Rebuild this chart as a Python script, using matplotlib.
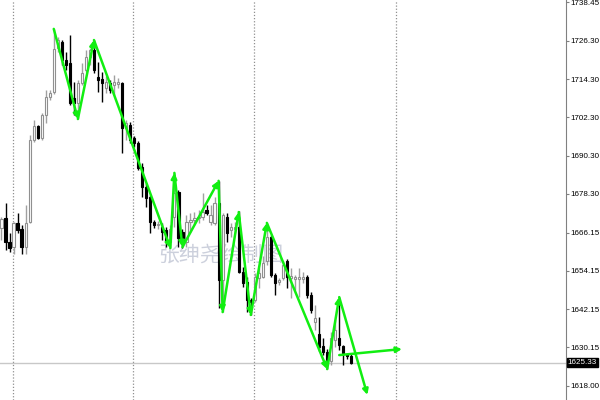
import numpy as np
import matplotlib

matplotlib.use('Agg')

import matplotlib.pyplot as plt

plt.rcParams['font.family'] = ['Liberation Sans', 'DejaVu Sans']

# candle data (one bar per index)
opens = [1667.6, 1670.7, 1663.2, 1661.6, 1669.2, 1667.3, 1661.6, 1669.5, 1695.2, 1699.6,
         1695.9, 1703.1, 1708.7, 1710.3, 1724.1, 1726.0, 1720.3, 1719.4, 1708.4, 1706.8,
         1713.1, 1717.2, 1721.3, 1723.5, 1715.0, 1714.4, 1711.6, 1713.1, 1712.5, 1712.8,
         1713.1, 1699.0, 1699.9, 1695.9, 1694.3, 1686.8, 1680.5, 1677.3, 1669.5, 1668.5,
         1667.9, 1667.0, 1663.2, 1671.1, 1678.9, 1666.3, 1663.2, 1669.5, 1670.1, 1670.7,
         1671.1, 1673.1, 1669.5, 1669.2, 1675.5, 1651.3, 1671.1, 1667.0, 1667.3, 1667.9,
         1653.8, 1650.6, 1645.0, 1645.0, 1651.9, 1652.2, 1657.1, 1664.8, 1652.8, 1650.6,
         1651.9, 1657.1, 1651.9, 1651.6, 1651.6, 1651.6, 1652.2, 1646.6, 1638.1, 1634.2,
         1630.6, 1628.7, 1625.9, 1632.4, 1633.0, 1630.6, 1628.1, 1627.3]
highs = [1671.1, 1675.5, 1666.0, 1669.5, 1672.3, 1668.5, 1674.8, 1696.8, 1701.5, 1699.9,
         1703.7, 1710.9, 1710.9, 1730.1, 1727.6, 1726.6, 1722.9, 1728.2, 1713.4, 1714.1,
         1719.4, 1723.5, 1724.1, 1726.6, 1719.7, 1716.6, 1715.3, 1714.1, 1715.6, 1714.7,
         1713.4, 1701.5, 1700.9, 1696.5, 1694.9, 1688.0, 1681.7, 1678.0, 1670.1, 1669.8,
         1669.2, 1667.9, 1668.5, 1684.9, 1679.5, 1667.3, 1671.8, 1672.3, 1672.5, 1673.1,
         1678.6, 1674.8, 1674.8, 1677.3, 1682.4, 1672.3, 1672.3, 1669.2, 1669.5, 1672.9,
         1655.4, 1652.2, 1645.6, 1653.5, 1655.1, 1658.9, 1669.2, 1665.4, 1653.5, 1651.9,
         1657.1, 1657.8, 1655.1, 1652.8, 1655.1, 1653.8, 1652.8, 1647.5, 1643.4, 1639.5,
         1633.0, 1629.7, 1634.9, 1638.6, 1645.9, 1630.9, 1628.4, 1628.1]
lows = [1663.8, 1660.7, 1660.1, 1659.4, 1666.0, 1659.4, 1659.4, 1669.2, 1694.6, 1695.5,
        1695.2, 1700.6, 1707.8, 1709.7, 1722.9, 1718.8, 1717.2, 1706.2, 1703.1, 1701.8,
        1712.5, 1716.6, 1718.8, 1716.3, 1710.3, 1707.2, 1710.0, 1710.0, 1709.4, 1711.6,
        1691.1, 1695.2, 1694.3, 1693.0, 1685.8, 1677.3, 1674.2, 1666.0, 1667.6, 1667.3,
        1663.8, 1661.6, 1661.3, 1667.9, 1661.6, 1661.3, 1661.6, 1666.3, 1668.5, 1669.2,
        1670.1, 1671.6, 1668.5, 1668.5, 1642.5, 1641.2, 1663.2, 1664.8, 1666.0, 1653.5,
        1649.1, 1641.2, 1640.3, 1644.4, 1648.8, 1651.9, 1656.1, 1652.2, 1646.6, 1649.7,
        1651.3, 1648.8, 1645.6, 1648.2, 1645.9, 1650.3, 1645.6, 1640.9, 1635.6, 1629.0,
        1627.7, 1623.3, 1624.6, 1630.3, 1629.3, 1624.6, 1626.5, 1624.9]
closes = [1670.4, 1663.2, 1661.3, 1669.2, 1667.0, 1661.6, 1669.2, 1695.2, 1699.6, 1695.9,
          1703.1, 1708.7, 1710.0, 1723.8, 1726.6, 1720.3, 1718.8, 1706.8, 1706.8, 1713.1,
          1716.3, 1721.3, 1723.5, 1717.2, 1714.1, 1713.1, 1713.4, 1710.9, 1713.4, 1713.4,
          1699.0, 1700.6, 1695.2, 1694.3, 1686.4, 1680.5, 1677.0, 1669.5, 1668.5, 1668.8,
          1666.3, 1663.2, 1667.3, 1678.6, 1664.5, 1663.2, 1669.5, 1670.1, 1670.7, 1671.1,
          1672.5, 1672.3, 1671.8, 1675.5, 1651.3, 1671.7, 1666.0, 1667.9, 1667.9, 1653.8,
          1650.3, 1645.0, 1644.4, 1652.2, 1653.5, 1656.7, 1664.8, 1652.8, 1650.3, 1651.3,
          1656.1, 1652.2, 1652.5, 1652.2, 1652.2, 1652.2, 1646.6, 1641.9, 1639.3, 1630.3,
          1628.7, 1624.6, 1633.0, 1635.6, 1630.9, 1628.4, 1627.4, 1625.33]

# zigzag drawn on top (bar index, price)
zz_x = [13, 19, 23, 42, 43, 45, 54, 55, 59, 62, 66, 81, 84, 91]
zz_y = [1730.1, 1701.8, 1726.6, 1661.3, 1684.9, 1661.6, 1682.4, 1641.2, 1672.6, 1640.3,
        1669.2, 1623.3, 1645.9, 1615.2]
proj_x = [84, 99.6]
proj_y = [1627.7, 1629.6]

price_ticks = [1738.45, 1726.30, 1714.30, 1702.30, 1690.30, 1678.30,
               1666.15, 1654.15, 1642.15, 1630.15, 1618.00]
day_lines = [2.9, 32.8, 62.7, 98.2]
last_price = closes[-1]
watermark = '张绅尧绘制图'

fig = plt.figure(figsize=(6, 4), dpi=100)
ax = fig.add_axes([0, 0, 566 / 600, 1])

idx = np.arange(len(opens))
o = np.array(opens)
c = np.array(closes)
up = c >= o

# wicks
ax.vlines(idx[up], np.array(lows)[up], np.array(highs)[up], color='#a0a0a0', lw=1, zorder=2)
ax.vlines(idx[~up], np.array(lows)[~up], np.array(highs)[~up], color='black', lw=1, zorder=2)

# bodies
body = np.abs(c - o)
body = np.maximum(body, 0.15)
bottom = np.minimum(o, c)
ax.bar(idx[up], body[up], 0.55, bottom=bottom[up], color='white', edgecolor='#909090',
       linewidth=0.8, zorder=3)
ax.bar(idx[~up], body[~up], 0.55, bottom=bottom[~up], color='black', edgecolor='black',
       linewidth=0.8, zorder=3)

for xl in day_lines:
    ax.axvline(xl, color='#909090', lw=0.9, linestyle=(0, (1, 1.5)), zorder=1)

ax.axhline(last_price, color='#c8c8c8', lw=1, zorder=1)

ax.text(54.5, 1659.1, watermark, family=['Noto Sans CJK SC', 'DejaVu Sans'], fontsize=15,
        color='#ccd0dc', ha='center', va='center', zorder=1.5)

green = '#11ee11'
for i in range(len(zz_x) - 1):
    ax.annotate('', xy=(zz_x[i + 1], zz_y[i + 1]), xytext=(zz_x[i], zz_y[i]),
                arrowprops=dict(arrowstyle='-|>', color=green, lw=1.8, mutation_scale=8,
                                shrinkA=0, shrinkB=0), zorder=5)
ax.annotate('', xy=(proj_x[1], proj_y[1]), xytext=(proj_x[0], proj_y[0]),
            arrowprops=dict(arrowstyle='-|>', color=green, lw=1.8, mutation_scale=8,
                            shrinkA=0, shrinkB=0), zorder=5)

ax.set_xlim(-0.37, 140.4)
ax.set_ylim(1613.6, 1739.17)

for side in ['left', 'top', 'bottom']:
    ax.spines[side].set_visible(False)
ax.spines['right'].set_color('#808080')
ax.set_xticks([])
ax.yaxis.tick_right()
ax.set_yticks(price_ticks)
ax.set_yticklabels(['%.2f' % p for p in price_ticks])
ax.tick_params(axis='y', direction='out', length=2, width=0.8, color='#808080',
               labelsize=5.8, pad=1)

# current price tag
ax.text(1.003, last_price, '%.2f' % last_price, transform=ax.get_yaxis_transform(),
        fontsize=5.8, color='white', va='center', ha='left',
        bbox=dict(boxstyle='square,pad=0.12', fc='black', ec='black'))

plt.savefig('out.png', dpi=100)
